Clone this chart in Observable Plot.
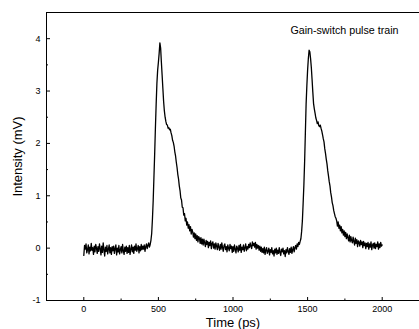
<!DOCTYPE html>
<html><head><meta charset="utf-8">
<script src="https://cdn.jsdelivr.net/npm/d3@7"></script>
<script src="https://cdn.jsdelivr.net/npm/@observablehq/plot@0.6"></script>
<style>body{margin:0;background:#fff}</style>
</head><body><div id="chart"></div>
<script>
// Sampling of the trace: one reading every 5 ps from 0 ps
const timeStartPs = 0;
const timeStepPs = 5;
// Intensity readings (mV), t = 0, 5, 10, ... 2000 ps (20 readings per row = 100 ps)
const intensityMV = [
 -0.14, 0.05,-0.02, 0.08,-0.09,-0.03, 0.06,-0.11, 0.02,-0.05, 0.09,-0.04, 0.01,-0.12, 0.04,-0.07, 0.07, 0.00,-0.10, 0.03, // 0
 -0.06, 0.08,-0.01,-0.13, 0.04,-0.08, 0.10,-0.03,-0.15, 0.02,-0.06, 0.05,-0.11,-0.02, 0.06,-0.09, 0.01,-0.12, 0.03,-0.05, // 100
  0.04,-0.10,-0.01, 0.06,-0.13, 0.00,-0.07, 0.05,-0.11,-0.03, 0.03,-0.09, 0.07,-0.05,-0.12, 0.02,-0.06, 0.04,-0.10, 0.01, // 200
 -0.08, 0.05,-0.12,-0.02, 0.06,-0.07, 0.02,-0.10, 0.04,-0.04, 0.08,-0.06,-0.01, 0.05,-0.09, 0.03,-0.05, 0.07,-0.03, 0.04, // 300
 -0.02, 0.06,-0.06, 0.03, 0.08,-0.01, 0.05, 0.10, 0.02, 0.07, 0.15, 0.28, 0.55, 0.90, 1.35, 1.80, 2.30, 2.75, 3.15, 3.40, // 400
  3.55, 3.72, 3.92, 3.82, 3.55, 3.30, 3.05, 2.80, 2.62, 2.50, 2.42, 2.36, 2.35, 2.29, 2.30, 2.26, 2.27, 2.20, 2.15, 2.06, // 500
  2.02, 1.95, 1.84, 1.76, 1.64, 1.54, 1.41, 1.32, 1.19, 1.10, 0.96, 0.92, 0.78, 0.77, 0.63, 0.66, 0.52, 0.57, 0.44, 0.50, // 600
  0.38, 0.45, 0.33, 0.41, 0.27, 0.36, 0.31, 0.21, 0.29, 0.18, 0.27, 0.15, 0.24, 0.12, 0.22, 0.19, 0.09, 0.20, 0.08, 0.17, // 700
  0.06, 0.17, 0.10, 0.03, 0.15, 0.07, 0.13, 0.01, 0.11, 0.05, 0.14,-0.01, 0.09, 0.12, 0.00, 0.08,-0.02, 0.10, 0.04,-0.03, // 800
  0.09, 0.02,-0.04, 0.07,-0.02, 0.10, 0.01,-0.06, 0.05, 0.08,-0.03, 0.03,-0.07, 0.06, 0.00,-0.05, 0.07,-0.01, 0.04,-0.08, // 900
  0.03,-0.06, 0.06,-0.02,-0.09, 0.04, 0.00,-0.07, 0.05,-0.04, 0.07,-0.08, 0.02,-0.03, 0.06,-0.06, 0.01, 0.08,-0.05, 0.03, // 1000
 -0.02, 0.07, 0.01, 0.10, 0.04,-0.01, 0.12, 0.05, 0.09, 0.02, 0.11,-0.02, 0.07, 0.00, 0.05,-0.04, 0.04,-0.06, 0.02,-0.08, // 1100
 -0.01,-0.09, 0.02,-0.12,-0.04, 0.01,-0.10,-0.06, 0.00,-0.13,-0.03,-0.08, 0.01,-0.11,-0.05,-0.15,-0.02,-0.09, 0.00,-0.12, // 1200
 -0.04,-0.10, 0.01,-0.08,-0.14,-0.02,-0.07, 0.00,-0.11,-0.05,-0.16,-0.03,-0.09, 0.01,-0.06,-0.12,-0.01,-0.08, 0.02,-0.10, // 1300
 -0.03, 0.03,-0.07, 0.01, 0.05,-0.02, 0.08, 0.03, 0.11, 0.07, 0.13, 0.18, 0.32, 0.52, 0.85, 1.20, 1.65, 2.20, 2.75, 3.10, // 1400
  3.40, 3.62, 3.78, 3.75, 3.62, 3.45, 3.22, 2.98, 2.76, 2.66, 2.58, 2.49, 2.44, 2.38, 2.41, 2.34, 2.32, 2.35, 2.29, 2.24, // 1500
  2.17, 2.09, 2.03, 1.90, 1.81, 1.70, 1.61, 1.48, 1.38, 1.27, 1.19, 1.06, 0.98, 0.87, 0.81, 0.72, 0.66, 0.60, 0.57, 0.52, // 1600
  0.42, 0.50, 0.38, 0.44, 0.33, 0.41, 0.29, 0.36, 0.25, 0.33, 0.22, 0.30, 0.18, 0.27, 0.20, 0.14, 0.25, 0.12, 0.22, 0.15, // 1700
  0.10, 0.21, 0.13, 0.06, 0.19, 0.09, 0.16, 0.03, 0.14, 0.11, 0.04, 0.15, 0.07, 0.12, 0.01, 0.13, 0.05, 0.10,-0.01, 0.09, // 1800
  0.03, 0.11,-0.02, 0.08, 0.02, 0.12,-0.03, 0.06, 0.09, 0.00, 0.10,-0.01, 0.07, 0.03, 0.12,-0.02, 0.08, 0.01, 0.11, 0.04, // 1900
  0.06                                                                                                                    // 2000
];
const xMajorTicks = [0, 500, 1000, 1500, 2000];
const xMinorTicks = [-250, 250, 750, 1250, 1750, 2250];
const yMajorTicks = [-1, 0, 1, 2, 3, 4];
const yMinorTicks = [-0.5, 0.5, 1.5, 2.5, 3.5, 4.5];
const xDomain = [-250, 2250];
const yDomain = [-1, 4.5];
const titleText = "Gain-switch pulse train";
const xLabel = "Time (ps)";
const yLabel = "Intensity (mV)";

const trace = intensityMV.map((v, i) => ({t: timeStartPs + i * timeStepPs, v}));

const W = 419, H = 329, mT = 12, mB = 29, mL = 46, mR = 0;
const plotW = W - mL - mR, plotH = H - mT - mB;

const chart = Plot.plot({
  width: W,
  height: H,
  marginTop: mT,
  marginBottom: mB,
  marginLeft: mL,
  marginRight: mR,
  style: {fontFamily: "'Liberation Sans', Arial, sans-serif", fontSize: "9px", color: "#000", background: "#fff"},
  x: {domain: xDomain},
  y: {domain: yDomain},
  marks: [
    Plot.ruleX([xDomain[0]], {stroke: "#000"}),
    Plot.ruleY([yDomain[0]], {stroke: "#000"}),
    Plot.ruleY([yDomain[1]], {stroke: "#000"}),
    // inward ticks
    Plot.ruleX(xMajorTicks, {stroke: "#000", insetTop: plotH - 3}),
    Plot.ruleX(xMinorTicks, {stroke: "#000", insetTop: plotH - 1.5}),
    Plot.ruleY(yMajorTicks, {stroke: "#000", insetRight: plotW - 4}),
    Plot.ruleY(yMinorTicks, {stroke: "#000", insetRight: plotW - 2}),
    Plot.axisX({ticks: xMajorTicks, tickSize: 0, tickPadding: 5, tickFormat: d => String(d), fontSize: 9, label: null}),
    Plot.axisY({ticks: yMajorTicks, tickSize: 0, tickPadding: 6, tickFormat: d => String(d), fontSize: 9, label: null}),
    Plot.text([xLabel], {frameAnchor: "bottom", dy: 22, fontSize: 13, textAnchor: "middle", lineAnchor: "middle"}),
    Plot.text([yLabel], {frameAnchor: "left", dx: -29, rotate: -90, fontSize: 13, textAnchor: "middle", lineAnchor: "middle"}),
    Plot.text([titleText], {frameAnchor: "top-right", dx: -21, dy: 18, fontSize: 10.7, textAnchor: "end", lineAnchor: "middle"}),
    Plot.line(trace, {x: "t", y: "v", stroke: "#000", strokeWidth: 1.3})
  ]
});
document.getElementById("chart").appendChild(chart);
</script>
</body></html>
